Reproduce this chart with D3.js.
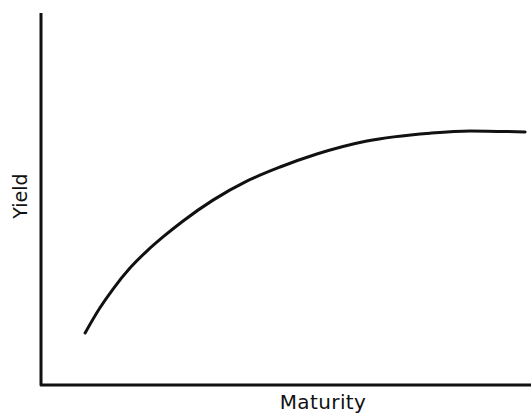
<!DOCTYPE html>
<html>
<head>
<meta charset="utf-8">
<script src="https://cdn.jsdelivr.net/npm/d3@7"></script>
<style>
  body { margin: 0; background: #fff; }
  svg { display: block; }
</style>
</head>
<body>
<svg width="531" height="414"></svg>
<script>
// yield curve, arbitrary units (0-100 on both axes)
const maturity = [9.0, 12.0, 14.7, 18.2, 21.6, 24.9, 29.0, 35.1, 42.0, 48.8, 56.3, 66.5, 79.4, 87.6, 98.8];
const yieldVals = [14.0, 20.7, 25.8, 31.5, 36.0, 39.8, 44.1, 49.7, 54.8, 58.6, 62.1, 65.6, 67.7, 68.3, 68.0];
const xLabel = 'Maturity';
const yLabel = 'Yield';

const svg = d3.select('svg');

// plot box: left axis at x=41, bottom axis at y=385
const x = d3.scaleLinear().domain([0, 100]).range([41, 531]);
const y = d3.scaleLinear().domain([0, 100]).range([385, 13]);

// L-shaped axes
svg.append('path')
  .datum([[0, 100], [0, 0], [100, 0]])
  .attr('d', d3.line().x(d => x(d[0])).y(d => y(d[1])))
  .attr('fill', 'none')
  .attr('stroke', '#111')
  .attr('stroke-width', 3)
  .attr('stroke-linejoin', 'round');

// the curve
const pts = maturity.map((m, i) => [m, yieldVals[i]]);
svg.append('path')
  .datum(pts)
  .attr('d', d3.line().x(d => x(d[0])).y(d => y(d[1])).curve(d3.curveMonotoneX))
  .attr('fill', 'none')
  .attr('stroke', '#111')
  .attr('stroke-width', 3)
  .attr('stroke-linecap', 'round');

// x axis label
svg.append('text')
  .attr('x', 323)
  .attr('y', 409)
  .attr('text-anchor', 'middle')
  .style('font-family', 'DejaVu Sans, Verdana, sans-serif')
  .style('font-size', '20px')
  .style('letter-spacing', '0.4px')
  .attr('fill', '#111')
  .text(xLabel);

// y axis label
svg.append('text')
  .attr('transform', 'translate(27,196) rotate(-90)')
  .attr('text-anchor', 'middle')
  .style('font-family', 'DejaVu Sans, Verdana, sans-serif')
  .style('font-size', '19px')
  .attr('fill', '#111')
  .text(yLabel);
</script>
</body>
</html>
